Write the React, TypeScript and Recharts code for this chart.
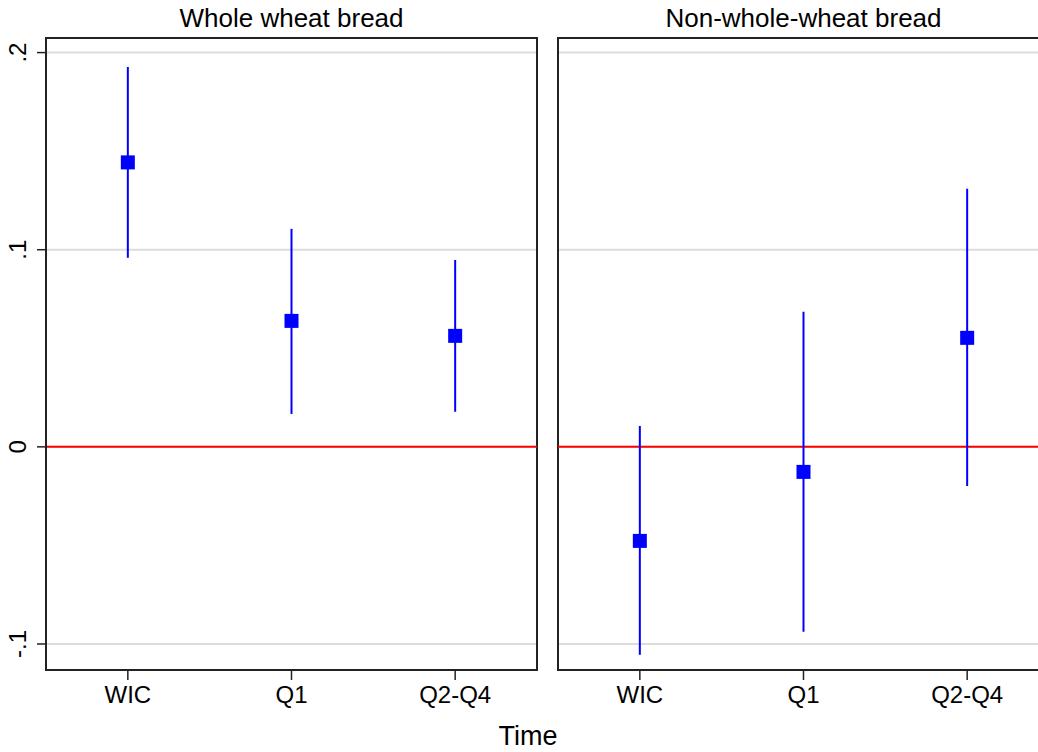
import React from 'react';
import { ScatterChart, Scatter, XAxis, YAxis, CartesianGrid, ReferenceLine, ReferenceArea, ErrorBar } from 'recharts';

const categories = ['WIC', 'Q1', 'Q2-Q4'];
const positions = [1, 2, 3];
const yTicks = [-0.1, 0, 0.1, 0.2];
const yTickLabels = ['-.1', '0', '.1', '.2'];

const wholeEst = [0.1443, 0.0639, 0.0563];
const wholeLo = [0.0959, 0.0167, 0.0178];
const wholeHi = [0.1927, 0.1106, 0.0948];

const nonEst = [-0.0477, -0.0127, 0.0553];
const nonLo = [-0.1055, -0.0938, -0.0198];
const nonHi = [0.0106, 0.0685, 0.1309];

const panelTitles = ['Whole wheat bread', 'Non-whole-wheat bread'];
const xTitle = 'Time';

const FONT = '"Liberation Sans", Arial, Helvetica, sans-serif';
const Y_DOMAIN: [number, number] = [-0.1132, 0.2074];
const X_DOMAIN: [number, number] = [0.5, 3.5];

const build = (est: number[], lo: number[], hi: number[]) =>
  positions.map((x, i) => ({ x, est: est[i], err: [est[i] - lo[i], hi[i] - est[i]] }));

const wholeData = build(wholeEst, wholeLo, wholeHi);
const nonData = build(nonEst, nonLo, nonHi);

const XTick = (props: any) => {
  const { x, y, payload } = props;
  const idx = positions.indexOf(payload.value);
  return (
    <text x={x} y={y} dy={21} textAnchor="middle" fontSize={24} fontFamily={FONT} fill="#000">
      {categories[idx]}
    </text>
  );
};

const YTick = (props: any) => {
  const { y, payload } = props;
  const idx = yTicks.indexOf(payload.value);
  const cx = 26;
  return (
    <text x={cx} y={y} textAnchor="middle" fontSize={24} fontFamily={FONT} fill="#000" transform={`rotate(-90, ${cx}, ${y})`}>
      {yTickLabels[idx]}
    </text>
  );
};

const SquareMarker = (props: any) => {
  const { cx, cy } = props;
  return <rect x={cx - 7} y={cy - 7} width={14} height={14} fill="#0000ff" />;
};

const Panel = ({ data, showY, width, marginLeft }: { data: any[]; showY: boolean; width: number; marginLeft: number }) => (
  <ScatterChart width={width} height={752} margin={{ top: 38, right: 3, left: marginLeft, bottom: 42 }}>
    <CartesianGrid horizontal vertical={false} stroke="#dcdcdc" strokeWidth={2} />
    <XAxis
      type="number"
      dataKey="x"
      domain={X_DOMAIN}
      ticks={positions}
      allowDataOverflow
      height={40}
      tickSize={10}
      tick={<XTick />}
      tickLine={{ stroke: '#222', strokeWidth: 1.5 }}
      axisLine={{ stroke: '#222', strokeWidth: 2 }}
    />
    <YAxis
      type="number"
      dataKey="est"
      domain={Y_DOMAIN}
      ticks={yTicks}
      allowDataOverflow
      hide={!showY}
      width={46}
      tickSize={9}
      tick={<YTick />}
      tickLine={{ stroke: '#222', strokeWidth: 1.5 }}
      axisLine={{ stroke: '#222', strokeWidth: 2 }}
    />
    <ReferenceArea x1={X_DOMAIN[0]} x2={X_DOMAIN[1]} y1={Y_DOMAIN[0]} y2={Y_DOMAIN[1]} fill="none" fillOpacity={0} stroke="#222" strokeWidth={2} ifOverflow="visible" />
    <ReferenceLine y={0} stroke="#ff0000" strokeWidth={2} />
    <Scatter data={data} dataKey="est" fill="#0000ff" shape={<SquareMarker />} isAnimationActive={false}>
      <ErrorBar dataKey="err" direction="y" width={0} stroke="#0000ff" strokeWidth={2} isAnimationActive={false} />
    </Scatter>
  </ScatterChart>
);

export default function App() {
  return (
    <div style={{ position: 'absolute', left: 0, top: 0, width: 1038, height: 752, overflow: 'hidden', background: '#fff', fontFamily: FONT }}>
      <div style={{ position: 'absolute', left: 0, top: 0 }}>
        <Panel data={wholeData} showY width={540} marginLeft={0} />
      </div>
      <div style={{ position: 'absolute', left: 548, top: 0 }}>
        <Panel data={nonData} showY={false} width={504} marginLeft={10} />
      </div>
      <div style={{ position: 'absolute', left: 46, width: 491, top: 3, textAlign: 'center', fontSize: 26, lineHeight: '30px' }}>
        {panelTitles[0]}
      </div>
      <div style={{ position: 'absolute', left: 558, width: 491, top: 3, textAlign: 'center', fontSize: 26, lineHeight: '30px' }}>
        {panelTitles[1]}
      </div>
      <div style={{ position: 'absolute', left: 0, width: 1056, top: 720, textAlign: 'center', fontSize: 27, lineHeight: '32px' }}>
        {xTitle}
      </div>
    </div>
  );
}
